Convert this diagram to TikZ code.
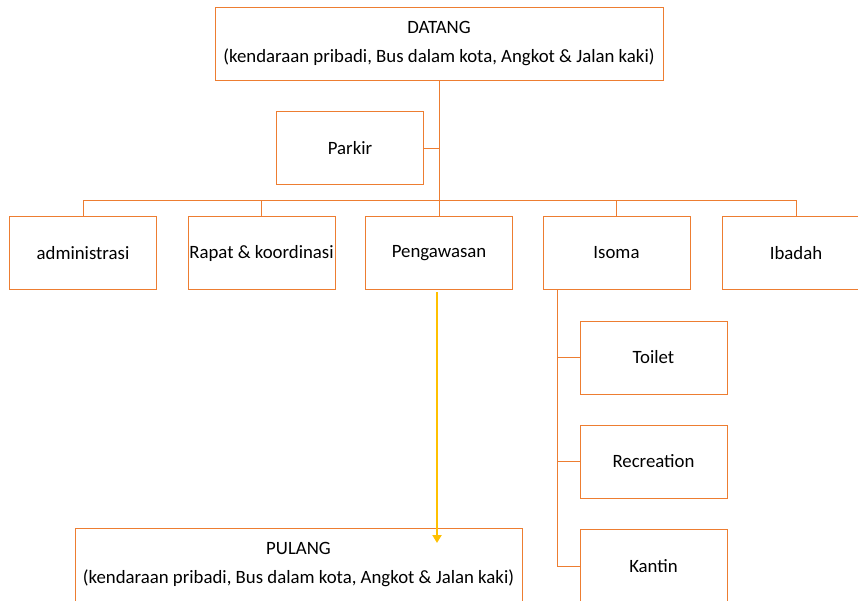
\documentclass[tikz,border=0pt]{standalone}
\usepackage{fontspec}
\setmainfont{Carlito}
\usetikzlibrary{arrows.meta}
\definecolor{oranye}{HTML}{ED7D31}
\definecolor{kuning}{HTML}{FFC000}

\begin{document}
\begin{tikzpicture}[x=1pt,y=-1pt,
  kotak/.style={draw=oranye,line width=1pt,minimum width=147pt,minimum height=73pt,inner sep=0pt,align=center,font=\fontsize{18.8}{29}\selectfont},
  lebar/.style={kotak,minimum width=448pt},
  garis/.style={draw=oranye,line width=1pt},
  panah/.style={kuning,line width=2.5pt,-{Triangle[length=8pt,width=9pt]}}]
\useasboundingbox (0,0) rectangle (858,600);
\clip (0,0) rectangle (858,600);
% kotak utama
\node[lebar] (datang) at (439,43.5) {DATANG\\(kendaraan pribadi, Bus dalam kota, Angkot \& Jalan kaki)};
\node[kotak] (parkir) at (350,148) {Parkir};
\node[kotak] (admin) at (83,253) {administrasi};
\node[kotak] (rapat) at (261.5,253) {Rapat \& koordinasi};
\node[kotak] (pengawasan) at (439,253) {Pengawasan};
\node[kotak] (isoma) at (616.5,253) {Isoma};
\node[kotak] (ibadah) at (796,253) {Ibadah};
\node[kotak] (toilet) at (653.5,357.5) {Toilet};
\node[kotak] (recreation) at (653.5,461.5) {Recreation};
\node[kotak] (kantin) at (653.5,566) {Kantin};
\node[lebar,minimum width=447pt] (pulang) at (298.5,565) {PULANG\\(kendaraan pribadi, Bus dalam kota, Angkot \& Jalan kaki)};
% garis penghubung
\coordinate (bus) at (0,200);
\coordinate (cabang) at ([xshift=15pt]isoma.south west);
\coordinate (ujung) at (437,543);
\draw[garis] (datang.south) -- (pengawasan.north);
\draw[garis] (parkir.east) -- (parkir.east -| datang.south);
\draw[garis] (admin.north) -- (admin.north |- bus) -- (ibadah.north |- bus) -- (ibadah.north);
\draw[garis] (rapat.north) -- (rapat.north |- bus);
\draw[garis] (isoma.north) -- (isoma.north |- bus);
\draw[garis] (cabang) |- (kantin.west);
\draw[garis] (toilet.west) -- (toilet.west -| cabang);
\draw[garis] (recreation.west) -- (recreation.west -| cabang);
\draw[panah] ([xshift=-2pt,yshift=-2pt]pengawasan.south) -- (ujung);
\end{tikzpicture}
\end{document}
